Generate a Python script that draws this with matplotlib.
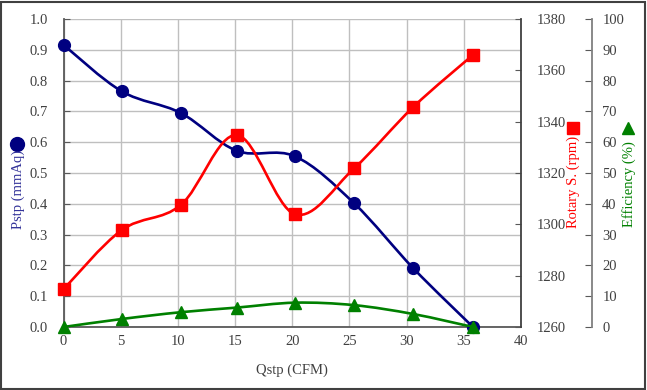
import numpy as np
import matplotlib
matplotlib.use('Agg')
import matplotlib.pyplot as plt
from matplotlib.path import Path
from matplotlib.patches import PathPatch, Rectangle
from matplotlib.lines import Line2D

# data
qstp = [0, 5.1, 10.25, 15.15, 20.25, 25.4, 30.6, 35.8]
pstp = [0.916, 0.765, 0.695, 0.572, 0.554, 0.402, 0.190, 0.0]
rpm = [1274.7, 1297.8, 1307.5, 1334.8, 1303.9, 1321.8, 1345.8, 1366.0]
eff = [0.0, 2.6, 4.8, 6.3, 7.9, 7.1, 4.2, 0.0]

x_ticks = np.arange(0, 41, 5)
p_ticks = np.arange(0, 1.01, 0.1)
rpm_ticks = np.arange(1260, 1381, 20)
eff_ticks = np.arange(0, 101, 10)

navy = '#000080'
red = '#FF0000'
green = '#008000'
txt = '#404040'

plt.rcParams['font.family'] = ['Liberation Serif', 'DejaVu Serif']
plt.rcParams['font.size'] = 10.5


def smooth_path(x, y):
    # Excel-like smoothed line: cubic bezier through the points
    p = np.column_stack([x, y]).astype(float)
    n = len(p)
    verts = [p[0]]
    codes = [Path.MOVETO]
    for i in range(n - 1):
        p0 = p[i - 1] if i > 0 else p[i]
        p1 = p[i]
        p2 = p[i + 1]
        p3 = p[i + 2] if i + 2 < n else p[i + 1]
        c1 = p1 + (p2 - p0) / 6.0
        c2 = p2 - (p3 - p1) / 6.0
        verts += [c1, c2, p2]
        codes += [Path.CURVE4] * 3
    return Path(verts, codes)


fig = plt.figure(figsize=(6.47, 3.9), dpi=100)
ax = fig.add_axes([63.5/647, 1-327/390, (521-63.5)/647, (327-19)/390])
ax2 = ax.twinx()
ax3 = ax.twinx()
ax3.spines['right'].set_position(('axes', (592.5-63.5)/(521-63.5)))

# grid
ax.set_xticks(x_ticks)
ax.set_yticks(p_ticks)
ax.grid(True, color='#BFBFBF', linewidth=1)
ax.set_axisbelow(True)

# Pstp
ax.add_patch(PathPatch(smooth_path(qstp, pstp), facecolor='none',
                       edgecolor=navy, lw=1.9, zorder=2))
ax.plot(qstp, pstp, 'o', color=navy, markersize=8.5, zorder=3, clip_on=False)

# rotary speed
ax2.add_patch(PathPatch(smooth_path(qstp, rpm), facecolor='none',
                        edgecolor=red, lw=1.9, zorder=2))
ax2.plot(qstp, rpm, 's', color=red, markersize=8.5, zorder=3, clip_on=False)

# efficiency
ax3.add_patch(PathPatch(smooth_path(qstp, eff), facecolor='none',
                        edgecolor=green, lw=1.9, zorder=2))
ax3.plot(qstp, eff, '^', color=green, markersize=8.5, zorder=3, clip_on=False)

ax.set_xlim(0, 40)
ax.set_ylim(0, 1.0)
ax2.set_ylim(1260, 1380)
ax3.set_ylim(0, 100)
ax2.set_yticks(rpm_ticks)
ax3.set_yticks(eff_ticks)

ax.set_yticklabels(['%.1f' % v for v in p_ticks])

for a in (ax, ax2, ax3):
    a.tick_params(colors='#595959', labelcolor=txt, direction='in', length=4, labelsize=10.5)
    for s in a.spines.values():
        s.set_visible(False)

ax.tick_params(axis='x', length=0, pad=6)
ax.tick_params(axis='y', pad=11)
ax.spines['left'].set_visible(True)
ax.spines['bottom'].set_visible(True)
ax.spines['left'].set_color('#595959')
ax.spines['bottom'].set_color('#595959')
ax.spines['left'].set_linewidth(1.3)
ax.spines['bottom'].set_linewidth(1.3)
ax2.spines['right'].set_visible(True)
ax2.spines['right'].set_color('#404040')
ax2.spines['right'].set_linewidth(1.3)
ax2.tick_params(axis='y', pad=11)
ax3.spines['right'].set_visible(True)
ax3.spines['right'].set_color('#808080')
ax3.spines['right'].set_linewidth(1.3)
ax3.tick_params(axis='y', length=5, pad=7)

ax.set_xlabel('Qstp (CFM)', color=txt, fontsize=10.5, labelpad=11)

# axis titles with marker symbols
fig.text(18/647, 1-189/390, 'Pstp (mmAq)', rotation=90, color='#333399',
         ha='center', va='center', fontsize=10.5)
fig.add_artist(Line2D([17/647], [1-144/390], marker='o', color=navy,
                      markersize=10, transform=fig.transFigure))
fig.text(573/647, 1-182/390, 'Rotary S. (rpm)', rotation=90, color=red,
         ha='center', va='center', fontsize=10.5)
fig.add_artist(Line2D([573/647], [1-128/390], marker='s', color=red,
                      markersize=9, transform=fig.transFigure))
fig.text(629/647, 1-184/390, 'Efficiency (%)', rotation=90, color=green,
         ha='center', va='center', fontsize=10.5)
fig.add_artist(Line2D([628/647], [1-128/390], marker='^', color=green,
                      markersize=9, transform=fig.transFigure))

# outer frame
fig.add_artist(Rectangle((0.002, 0.003), 0.995, 0.993, transform=fig.transFigure,
                         facecolor='none', edgecolor='#404040', lw=1.5))

fig.savefig('out.png', dpi=100)
